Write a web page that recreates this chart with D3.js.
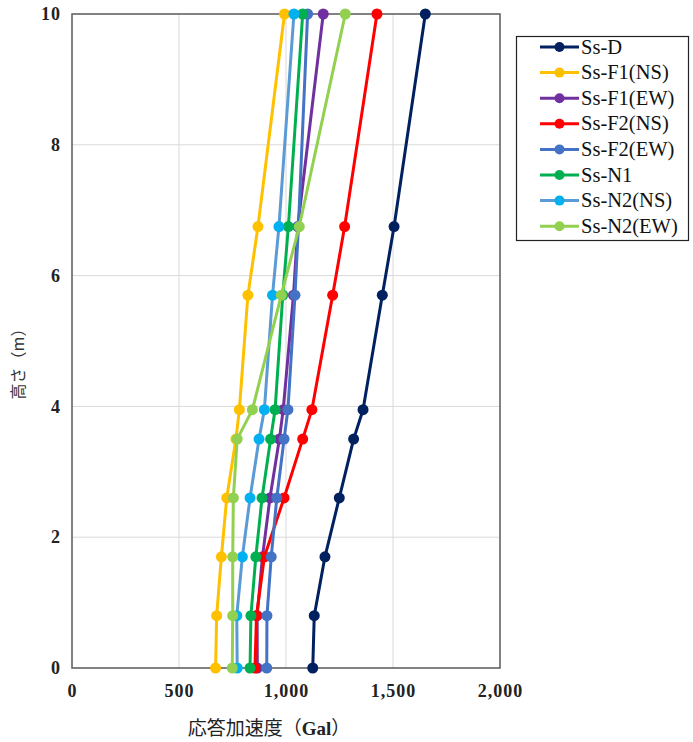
<!DOCTYPE html>
<html><head><meta charset="utf-8">
<script src="https://cdn.jsdelivr.net/npm/d3@7"></script>
<style>body{margin:0;background:#fff;} svg{display:block;}</style>
</head><body>
<svg id="c" width="693" height="742"></svg>
<script>
const heights = [0, 0.8, 1.7, 2.6, 3.5, 3.95, 5.7, 6.75, 10];
const seriesNames = ["Ss-D","Ss-F1(NS)","Ss-F1(EW)","Ss-F2(NS)","Ss-F2(EW)","Ss-N1","Ss-N2(NS)","Ss-N2(EW)"];
const ssD    = [1125, 1132, 1182, 1249, 1316, 1360, 1450, 1505, 1651];
const ssF1NS = [671, 676, 698, 723, 766, 782, 822, 869, 993];
const ssF1EW = [866, 865, 890, 925, 969, 987, 1035, 1055, 1174];
const ssF2NS = [855, 862, 899, 991, 1078, 1121, 1218, 1274, 1425];
const ssF2EW = [910, 911, 931, 957, 991, 1009, 1042, 1058, 1101];
const ssN1   = [832, 836, 859, 888, 928, 949, 985, 1011, 1078];
const ssN2NS = [772, 770, 796, 832, 874, 899, 937, 967, 1037];
const ssN2EW = [749, 751, 751, 754, 772, 843, 978, 1062, 1277];
const lineColors   = ["#002060","#FFC000","#7030A0","#FF0000","#4472C4","#00B050","#5B9BD5","#92D050"];
const markerColors = ["#002060","#FFC000","#7030A0","#FF0000","#4472C4","#00B050","#00B0F0","#92D050"];
const xTicks = [0, 500, 1000, 1500, 2000];
const yTicks = [0, 2, 4, 6, 8, 10];

const allValues = [ssD, ssF1NS, ssF1EW, ssF2NS, ssF2EW, ssN1, ssN2NS, ssN2EW];
const series = seriesNames.map((n,i)=>({name:n, values:allValues[i], line:lineColors[i], marker:markerColors[i]}));

const svg = d3.select("#c");
const L=72, R=500, T=14, B=668;
const x = d3.scaleLinear().domain([0,2000]).range([L,R]);
const y = d3.scaleLinear().domain([0,10]).range([B,T]);
const fmt = d3.format(",");
const serif = "'Liberation Serif','Times New Roman',serif";

// grid
svg.append("g").selectAll("line").data(xTicks.filter(d=>d>0&&d<2000)).join("line")
  .attr("x1",d=>x(d)).attr("x2",d=>x(d)).attr("y1",T).attr("y2",B)
  .attr("stroke","#d9d9d9").attr("stroke-width",1);
svg.append("g").selectAll("line").data(yTicks.filter(d=>d>0&&d<10)).join("line")
  .attr("x1",L).attr("x2",R).attr("y1",d=>y(d)).attr("y2",d=>y(d))
  .attr("stroke","#d9d9d9").attr("stroke-width",1);

// axes
const xAxis = svg.append("g").attr("transform",`translate(0,${B})`)
  .call(d3.axisBottom(x).tickValues(xTicks).tickFormat(fmt).tickSize(0).tickPadding(16));
const yAxis = svg.append("g").attr("transform",`translate(${L},0)`)
  .call(d3.axisLeft(y).tickValues(yTicks).tickSize(0).tickPadding(11));
[xAxis,yAxis].forEach(a=>{
  a.select(".domain").remove();
  a.selectAll("text").attr("font-family",serif).attr("font-size",18).attr("font-weight","bold")
    .attr("letter-spacing","1px").attr("fill","#222");
});

// frame
svg.append("rect").attr("x",L).attr("y",T).attr("width",R-L).attr("height",B-T)
  .attr("fill","none").attr("stroke","#595959").attr("stroke-width",1.5);

// lines
const line = d3.line().x(d=>x(d[0])).y(d=>y(d[1]));
const g = svg.append("g");
series.forEach(s=>{
  const pts = s.values.map((v,i)=>[v,heights[i]]);
  g.append("path").datum(pts).attr("d",line).attr("fill","none")
    .attr("stroke",s.line).attr("stroke-width",3).attr("stroke-linejoin","round");
  g.append("g").selectAll("circle").data(pts).join("circle")
    .attr("cx",d=>x(d[0])).attr("cy",d=>y(d[1])).attr("r",5.5).attr("fill",s.marker);
});

// axis titles
const xt = svg.append("text").attr("x",269).attr("y",735).attr("text-anchor","middle")
  .attr("font-family","'Noto Sans CJK JP',sans-serif").attr("font-size",19).attr("fill","#222");
xt.append("tspan").text("応答加速度（");
xt.append("tspan").attr("font-family",serif).attr("font-weight","bold").text("Gal");
xt.append("tspan").text("）");
svg.append("text").attr("transform","translate(24,360) rotate(-90)").attr("text-anchor","middle")
  .attr("font-family","'Noto Sans CJK JP',sans-serif").attr("font-size",16).attr("fill","#333")
  .text("高さ（m）");

// legend
const lg = svg.append("g");
lg.append("rect").attr("x",516.5).attr("y",36.5).attr("width",172).attr("height",204)
  .attr("fill","#fff").attr("stroke","#222").attr("stroke-width",1.2);
series.forEach((s,i)=>{
  const yy = 47 + i*25.6;
  lg.append("line").attr("x1",540).attr("x2",579).attr("y1",yy).attr("y2",yy)
    .attr("stroke",s.line).attr("stroke-width",3);
  lg.append("circle").attr("cx",559.5).attr("cy",yy).attr("r",5).attr("fill",s.marker);
  lg.append("text").attr("x",581).attr("y",yy+6.5).attr("font-family",serif).attr("font-size",20.5)
    .attr("fill","#111").text(s.name);
});
</script>
</body></html>
